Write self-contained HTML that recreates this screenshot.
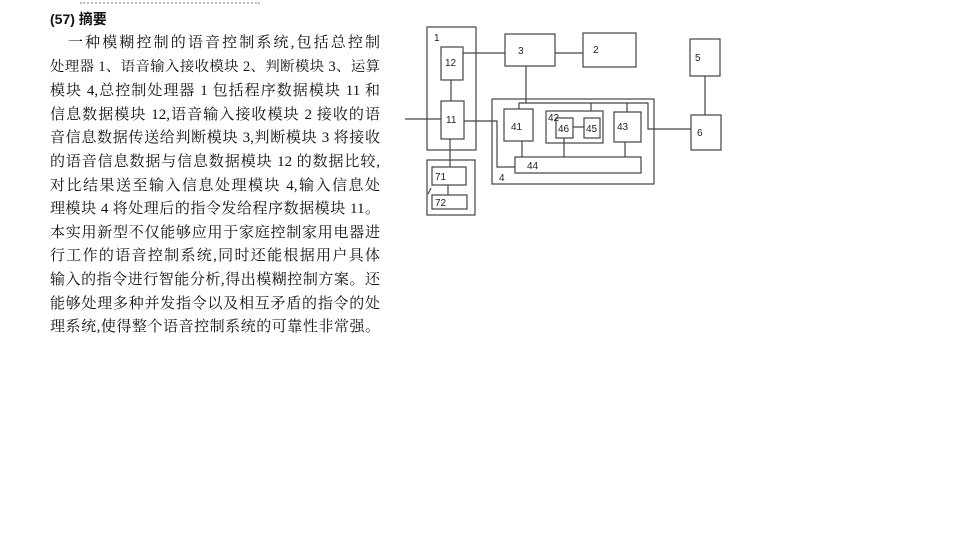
<!DOCTYPE html>
<html><head><meta charset="utf-8"><style>
body{margin:0;width:960px;height:540px;background:#fff;overflow:hidden;position:relative;font-family:"Liberation Serif","Noto Serif CJK SC",serif;color:#111}
.l{position:absolute;left:50px;width:330px;font-size:15px;line-height:16px;text-align:justify;text-align-last:justify;white-space:nowrap}
.h{position:absolute;left:50px;top:9px;font-size:14px;font-family:"Liberation Sans","Noto Sans CJK SC",sans-serif;font-weight:bold}
svg{position:absolute;left:0;top:0}
svg text{font-family:"Liberation Sans","DejaVu Sans",sans-serif;font-size:10px;fill:#222}
</style></head><body>
<div style="position:absolute;left:80px;top:-8px;width:180px;height:10px;border-bottom:2px dotted #bbb"></div>
<div class="h">(57) 摘要</div>
<div class="l" style="top:35px;left:68px;width:312px">一种模糊控制的语音控制系统,包括总控制</div>
<div class="l" style="top:59px;font-size:14.4px">处理器 1、语音输入接收模块 2、判断模块 3、运算</div>
<div class="l" style="top:83px">模块 4,总控制处理器 1 包括程序数据模块 11 和</div>
<div class="l" style="top:107px">信息数据模块 12,语音输入接收模块 2 接收的语</div>
<div class="l" style="top:130px">音信息数据传送给判断模块 3,判断模块 3 将接收</div>
<div class="l" style="top:154px">的语音信息数据与信息数据模块 12 的数据比较,</div>
<div class="l" style="top:178px">对比结果送至输入信息处理模块 4,输入信息处</div>
<div class="l" style="top:201px">理模块 4 将处理后的指令发给程序数据模块 11。</div>
<div class="l" style="top:225px">本实用新型不仅能够应用于家庭控制家用电器进</div>
<div class="l" style="top:248px">行工作的语音控制系统,同时还能根据用户具体</div>
<div class="l" style="top:272px">输入的指令进行智能分析,得出模糊控制方案。还</div>
<div class="l" style="top:296px">能够处理多种并发指令以及相互矛盾的指令的处</div>
<div class="l" style="top:319px">理系统,使得整个语音控制系统的可靠性非常强。</div>
<svg width="960" height="540" fill="none" stroke="#444" stroke-width="1.2">
<rect x="427" y="27" width="49" height="123"/>
<rect x="441" y="47" width="22" height="33"/>
<rect x="441" y="101" width="23" height="38"/>
<rect x="505" y="34" width="50" height="32"/>
<rect x="583" y="33" width="53" height="34"/>
<rect x="690" y="39" width="30" height="37"/>
<rect x="691" y="115" width="30" height="35"/>
<rect x="492" y="99" width="162" height="85"/>
<rect x="504" y="109" width="29" height="32"/>
<rect x="546" y="111" width="57" height="32"/>
<rect x="556" y="118" width="17" height="20"/>
<rect x="584" y="118" width="16" height="20"/>
<rect x="614" y="112" width="27" height="30"/>
<rect x="515" y="157" width="126" height="16"/>
<rect x="427" y="160" width="48" height="55"/>
<rect x="432" y="167" width="34" height="18"/>
<rect x="432" y="195" width="35" height="14"/>
<path d="M463 53H505M555 53H583M526 66V103M519 109V103H648V129H691M591 111V103M627 112V103M705 76V115M405 119H441M464 121H497V167H515M522 141V157M564 138V157M625 142V157M573 127H584M451 80V101M450 139V167M448 185V195M431 188L428 194"/>
<g stroke="none">
<text x="434" y="41">1</text><text x="445" y="66">12</text><text x="446" y="123">11</text>
<text x="518" y="54">3</text><text x="593" y="53">2</text><text x="695" y="61">5</text><text x="697" y="136">6</text>
<text x="511" y="130">41</text><text x="548" y="121">42</text><text x="558" y="132">46</text><text x="586" y="132">45</text><text x="617" y="130">43</text>
<text x="527" y="169">44</text><text x="499" y="181">4</text><text x="435" y="180">71</text><text x="435" y="206">72</text>
</g>
</svg>
</body></html>
